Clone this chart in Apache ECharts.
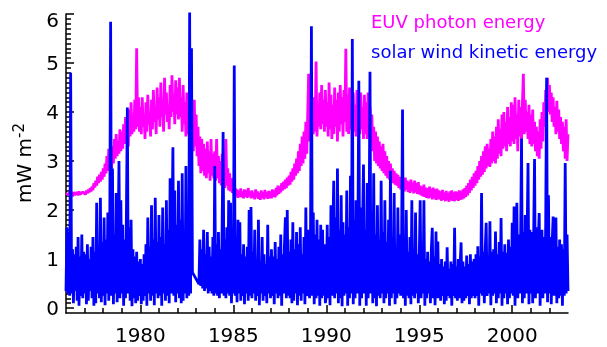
<!DOCTYPE html>
<html>
<head>
<meta charset="utf-8">
<script src="https://cdn.jsdelivr.net/npm/echarts@6/dist/echarts.min.js"></script>
<style>
  html, body { margin: 0; padding: 0; background: #fff; }
  #chart { width: 607px; height: 347px; }
</style>
</head>
<body>
<div id="chart"></div>
<script>
// Sampling grid: one value every 0.05 yr starting at 1976.0
const startYear = 1976;
const sampleStep = 0.05;

// Axis ticks
const xMajorTicks = [1980, 1985, 1990, 1995, 2000];
const yMajorTicks = [0, 1, 2, 3, 4, 5, 6];

// EUV photon energy flux (mW m^-2), one row per year
const euvEnergy = [
  2.34, 2.30, 2.36, 2.31, 2.38, 2.30, 2.35, 2.28, 2.37, 2.31, 2.33, 2.27, 2.36, 2.30, 2.38, 2.32, 2.35, 2.29, 2.37, 2.33, // 1976
  2.38, 2.32, 2.40, 2.34, 2.42, 2.36, 2.45, 2.38, 2.48, 2.41, 2.55, 2.46, 2.60, 2.50, 2.68, 2.55, 2.72, 2.58, 2.78, 2.62, // 1977
  2.85, 2.68, 2.95, 2.75, 3.10, 2.80, 3.25, 2.90, 3.05, 2.85, 3.30, 2.95, 3.45, 3.05, 3.55, 3.10, 3.40, 3.15, 3.65, 3.20, // 1978
  3.60, 3.25, 3.75, 3.35, 3.90, 3.40, 3.70, 3.30, 4.05, 3.50, 4.20, 3.55, 3.95, 3.60, 4.25, 3.65, 5.30, 3.70, 4.30, 3.60, // 1979
  4.10, 3.55, 4.30, 3.70, 3.95, 3.45, 4.20, 3.60, 4.35, 3.75, 4.00, 3.50, 4.25, 3.65, 4.45, 3.80, 4.10, 3.55, 4.50, 3.85, // 1980
  4.30, 3.70, 4.60, 3.90, 4.20, 3.60, 4.70, 3.95, 4.40, 3.80, 4.15, 3.65, 4.55, 3.90, 4.75, 4.00, 4.35, 3.75, 4.65, 3.95, // 1981
  4.50, 3.85, 4.70, 3.90, 4.30, 3.60, 4.55, 3.75, 4.20, 3.50, 4.40, 3.55, 4.10, 3.35, 4.35, 3.45, 4.00, 3.20, 4.25, 3.30, // 1982
  3.95, 3.10, 3.70, 2.90, 3.50, 2.75, 3.45, 2.80, 3.35, 2.70, 3.25, 2.65, 3.40, 2.75, 3.20, 2.60, 3.45, 2.70, 3.15, 2.65, // 1983
  3.20, 2.60, 3.45, 2.65, 3.10, 2.55, 3.00, 2.50, 3.15, 2.55, 2.95, 2.45, 3.45, 2.50, 2.85, 2.40, 2.75, 2.38, 2.65, 2.35, // 1984
  2.50, 2.30, 2.45, 2.28, 2.42, 2.25, 2.40, 2.27, 2.44, 2.26, 2.38, 2.24, 2.42, 2.27, 2.40, 2.25, 2.45, 2.28, 2.38, 2.24, // 1985
  2.40, 2.25, 2.36, 2.22, 2.42, 2.26, 2.38, 2.23, 2.35, 2.21, 2.40, 2.25, 2.37, 2.22, 2.41, 2.26, 2.36, 2.23, 2.39, 2.24, // 1986
  2.38, 2.24, 2.42, 2.27, 2.40, 2.26, 2.45, 2.30, 2.50, 2.33, 2.48, 2.36, 2.55, 2.40, 2.58, 2.43, 2.62, 2.45, 2.66, 2.50, // 1987
  2.70, 2.52, 2.78, 2.58, 2.85, 2.62, 2.95, 2.70, 3.05, 2.75, 3.20, 2.80, 3.35, 2.90, 3.50, 2.95, 3.60, 3.05, 3.80, 3.15, // 1988
  3.95, 4.78, 3.40, 4.20, 3.45, 4.05, 3.55, 4.30, 3.60, 5.03, 3.50, 4.10, 3.70, 4.40, 3.65, 4.55, 3.75, 4.25, 3.60, 4.45, // 1989
  3.70, 4.20, 3.50, 4.60, 3.65, 4.35, 3.45, 4.15, 3.55, 4.50, 3.70, 4.25, 3.40, 4.40, 3.60, 4.55, 3.75, 4.30, 3.50, 4.45, // 1990
  3.80, 5.29, 3.60, 4.35, 3.55, 4.50, 3.65, 4.20, 3.45, 4.40, 3.60, 4.15, 3.50, 4.45, 3.70, 4.25, 3.55, 4.40, 3.65, 4.10, // 1991
  3.45, 4.35, 3.55, 4.20, 3.45, 4.40, 3.50, 4.10, 3.35, 3.95, 3.20, 3.70, 3.00, 3.60, 2.95, 3.50, 2.90, 3.40, 2.85, 3.30, // 1992
  2.80, 3.35, 2.75, 3.20, 2.70, 3.10, 2.65, 3.00, 2.62, 2.95, 2.58, 2.85, 2.55, 2.80, 2.52, 2.75, 2.50, 2.72, 2.45, 2.68, // 1993
  2.42, 2.65, 2.40, 2.62, 2.38, 2.66, 2.42, 2.60, 2.37, 2.58, 2.35, 2.62, 2.38, 2.56, 2.34, 2.60, 2.36, 2.55, 2.33, 2.57, // 1994
  2.32, 2.50, 2.30, 2.48, 2.28, 2.52, 2.27, 2.46, 2.25, 2.45, 2.24, 2.48, 2.26, 2.44, 2.22, 2.46, 2.24, 2.42, 2.21, 2.44, // 1995
  2.22, 2.40, 2.22, 2.38, 2.19, 2.41, 2.21, 2.36, 2.18, 2.39, 2.20, 2.35, 2.17, 2.38, 2.20, 2.40, 2.19, 2.36, 2.18, 2.38, // 1996
  2.21, 2.37, 2.19, 2.40, 2.21, 2.38, 2.22, 2.42, 2.24, 2.45, 2.27, 2.50, 2.30, 2.55, 2.35, 2.62, 2.40, 2.68, 2.45, 2.75, // 1997
  2.50, 2.80, 2.55, 2.90, 2.62, 3.00, 2.68, 3.10, 2.72, 3.20, 2.78, 3.30, 2.85, 3.35, 2.90, 3.25, 2.88, 3.45, 2.95, 3.60, // 1998
  3.00, 3.50, 2.95, 3.70, 3.05, 3.85, 3.15, 3.65, 3.10, 3.95, 3.25, 4.00, 3.30, 3.80, 3.20, 4.10, 3.35, 3.90, 3.30, 4.20, // 1999
  3.40, 4.15, 3.35, 4.30, 3.45, 3.95, 3.20, 4.25, 3.50, 4.10, 3.40, 4.20, 4.78, 3.55, 4.25, 3.60, 4.00, 3.45, 4.15, 3.35, // 2000
  3.95, 3.30, 4.05, 3.35, 3.80, 3.20, 3.70, 3.10, 3.60, 3.05, 3.85, 3.25, 4.00, 3.40, 4.20, 3.70, 4.45, 3.90, 4.70, 4.00, // 2001
  4.55, 3.95, 4.40, 3.80, 4.30, 3.70, 4.10, 3.55, 4.23, 3.60, 4.05, 3.45, 3.90, 3.35, 3.80, 3.20, 3.70, 3.05, 3.85, 3.00, // 2002
  3.55
];

// Solar wind kinetic energy flux (mW m^-2); null marks the data gap late 1982
const windEnergy = [
  0.35, 1.65, 0.30, 1.55, 0.25, 4.80, 0.30, 1.20, 0.10, 1.10, 0.35, 1.25, 0.15, 1.45, 0.05, 1.05, 0.25, 1.50, 0.20, 1.15, // 1976
  0.30, 1.10, 0.08, 1.30, 0.15, 1.00, 0.35, 1.25, 0.20, 1.45, 0.05, 1.15, 0.10, 2.15, 0.30, 1.20, 0.20, 2.25, 0.12, 1.35, // 1977
  0.25, 1.85, 0.06, 1.40, 0.30, 1.95, 0.15, 1.30, 5.84, 0.25, 2.85, 0.08, 1.50, 0.30, 2.35, 0.12, 1.35, 3.00, 0.20, 2.20, // 1978
  0.30, 1.70, 0.05, 1.40, 0.20, 1.95, 4.09, 0.30, 1.65, 0.15, 1.80, 0.04, 1.20, 0.20, 1.05, 0.10, 1.15, 0.15, 0.95, 0.25, // 1979
  1.00, 0.08, 0.90, 0.15, 1.10, 0.25, 1.30, 0.05, 1.85, 0.30, 1.25, 0.15, 2.10, 0.25, 1.40, 0.06, 2.25, 0.30, 1.35, 0.20, // 1980
  1.90, 0.25, 1.45, 0.05, 2.05, 0.30, 1.30, 0.15, 2.20, 0.25, 1.60, 0.10, 2.65, 0.30, 1.50, 3.28, 0.25, 2.40, 0.12, 1.70, // 1981
  0.30, 2.60, 0.20, 1.80, 0.10, 2.75, 0.15, 1.50, 0.30, 2.90, 0.20, 1.65, 0.25, 6.05, 0.30, 5.30, 0.73, null, null, null, // 1982
  null, null, null, 0.49, 1.40, 0.45, 1.20, 0.40, 1.60, 0.35, 1.10, 0.40, 1.55, 0.30, 1.25, 0.35, 1.05, 0.30, 1.45, 0.25, // 1983
  2.90, 0.30, 1.30, 0.25, 1.55, 0.20, 1.20, 0.30, 1.75, 3.59, 0.25, 1.40, 0.20, 1.65, 0.30, 2.20, 0.25, 2.15, 0.10, 1.25, // 1984
  0.30, 4.95, 0.25, 1.20, 0.12, 1.80, 0.30, 1.75, 0.15, 1.10, 0.25, 1.30, 0.08, 1.05, 0.30, 1.25, 0.15, 2.00, 0.25, 2.06, // 1985
  0.20, 1.15, 0.30, 1.60, 0.15, 1.00, 0.25, 1.80, 0.06, 0.95, 0.30, 1.45, 0.15, 1.10, 0.25, 0.90, 0.10, 1.70, 0.30, 1.05, // 1986
  0.20, 1.20, 0.25, 1.05, 0.08, 1.35, 0.30, 1.00, 0.20, 1.25, 0.25, 1.50, 0.05, 1.10, 0.30, 1.30, 1.85, 0.20, 2.00, 0.25, // 1987
  1.15, 0.20, 1.40, 0.10, 1.75, 0.15, 1.20, 0.30, 1.55, 0.06, 1.30, 0.25, 1.65, 0.15, 1.10, 0.30, 1.45, 0.08, 2.05, 0.25, // 1988
  0.30, 1.60, 0.20, 1.35, 5.75, 0.25, 1.95, 0.08, 1.50, 0.20, 1.80, 0.25, 1.40, 0.05, 1.70, 0.20, 1.60, 0.25, 1.30, 0.10, // 1989
  0.25, 1.70, 0.20, 1.45, 0.06, 2.10, 0.25, 1.55, 2.60, 0.20, 1.85, 0.30, 2.85, 0.10, 1.60, 0.20, 2.30, 0.04, 1.75, 0.25, // 1990
  1.50, 0.30, 2.40, 0.05, 1.65, 0.20, 2.70, 0.30, 5.49, 0.08, 1.80, 0.20, 2.20, 0.30, 1.55, 4.64, 0.05, 2.05, 0.20, 1.70, // 1991
  2.93, 0.30, 1.60, 0.05, 2.55, 0.20, 1.45, 4.82, 0.30, 1.90, 0.10, 2.75, 0.20, 1.50, 0.04, 2.10, 0.25, 1.40, 0.20, 2.60, // 1992
  0.30, 1.55, 0.10, 2.20, 0.20, 1.35, 0.30, 1.80, 0.05, 2.80, 0.20, 1.45, 0.30, 2.35, 0.08, 1.25, 0.20, 2.05, 0.30, 1.50, // 1993
  0.25, 1.40, 4.05, 0.20, 1.30, 0.05, 2.00, 0.25, 1.15, 0.20, 1.45, 0.08, 2.20, 0.25, 1.20, 0.20, 1.95, 0.30, 1.10, 0.10, // 1994
  1.05, 2.20, 0.20, 1.25, 0.30, 2.20, 0.05, 1.00, 0.20, 1.15, 0.30, 0.95, 0.10, 1.20, 1.64, 0.20, 1.05, 0.06, 1.56, 0.20, // 1995
  1.36, 0.20, 0.90, 0.15, 1.00, 0.25, 0.85, 0.08, 0.95, 0.15, 1.24, 0.25, 0.80, 0.20, 0.95, 0.05, 0.90, 0.25, 1.64, 0.20, // 1996
  0.85, 0.15, 1.00, 0.20, 0.90, 1.34, 0.10, 0.95, 0.15, 0.85, 0.20, 1.07, 0.25, 0.90, 0.08, 1.10, 0.20, 0.95, 0.25, 1.00, // 1997
  0.20, 1.10, 0.25, 1.26, 0.05, 1.05, 0.30, 2.35, 0.25, 1.15, 0.10, 1.20, 1.74, 0.25, 1.00, 0.30, 1.77, 0.06, 1.15, 0.25, // 1998
  1.20, 0.30, 1.56, 0.10, 1.10, 0.20, 1.35, 0.30, 1.84, 0.05, 1.15, 0.20, 1.30, 0.30, 1.13, 0.08, 1.40, 0.20, 1.25, 0.30, // 1999
  1.74, 0.25, 2.07, 0.05, 1.40, 2.15, 0.20, 1.50, 0.30, 1.35, 3.46, 0.10, 1.55, 0.20, 1.90, 0.30, 1.45, 2.96, 0.08, 1.60, // 2000
  0.30, 1.55, 0.10, 1.40, 3.04, 0.20, 1.65, 0.30, 1.35, 1.94, 0.05, 1.50, 1.60, 0.20, 1.45, 0.30, 1.70, 4.70, 0.12, 2.30, // 2001
  0.30, 1.45, 0.08, 1.35, 1.87, 0.25, 1.55, 1.85, 0.10, 1.25, 0.20, 1.40, 0.25, 1.30, 0.05, 1.20, 0.25, 2.96, 0.30, 1.50, // 2002
  0.35
];

const sampleTime = i => +(startYear + i * sampleStep).toFixed(2);
const euvData = euvEnergy.map((v, i) => [sampleTime(i), v]);
const windData = windEnergy.map((v, i) => [sampleTime(i), v]);

// Minor tick positions: every year on x, every 0.1 on y
const xMinorTicks = [];
for (let yr = 1977; yr < 2003; yr++) if (yr % 5 !== 0) xMinorTicks.push(yr);
const yMinorTicks = [];
for (let k = 1; k < 60; k++) if (k % 10 !== 0) yMinorTicks.push(k / 10);

const FONT = '"DejaVu Sans", Verdana, sans-serif';
const X_MIN = 1976, X_MAX = 2003, Y_MIN = -0.1, Y_MAX = 6;
const axisStroke = { color: '#000', width: 1.5 };

const chart = echarts.init(document.getElementById('chart'), null, { renderer: 'canvas' });

chart.setOption({
  animation: false,
  backgroundColor: '#fff',
  grid: { left: 66, right: 39, top: 14, bottom: 32 },
  xAxis: [
    {
      type: 'value', min: X_MIN, max: X_MAX, position: 'bottom',
      axisLine: { show: true, onZero: false, lineStyle: axisStroke },
      axisTick: { show: true, inside: true, length: 8, customValues: xMajorTicks, lineStyle: axisStroke },
      axisLabel: { show: true, customValues: xMajorTicks, margin: 14, color: '#000',
                   fontFamily: FONT, fontSize: 20, formatter: v => String(v) },
      splitLine: { show: false }
    },
    {
      type: 'value', min: X_MIN, max: X_MAX, position: 'bottom',
      axisLine: { show: false, onZero: false },
      axisTick: { show: true, inside: true, length: 5, customValues: xMinorTicks, lineStyle: axisStroke },
      axisLabel: { show: false },
      splitLine: { show: false }
    }
  ],
  yAxis: [
    {
      type: 'value', min: Y_MIN, max: Y_MAX, position: 'left',
      axisLine: { show: true, onZero: false, lineStyle: axisStroke },
      axisTick: { show: true, inside: true, length: 8, customValues: yMajorTicks, lineStyle: axisStroke },
      axisLabel: {
        show: true, customValues: yMajorTicks, margin: 7, color: '#000',
        fontFamily: FONT, fontSize: 20,
        // the top label sits a little below its tick so it stays inside the frame
        formatter: v => (v === 6 ? '{top|6}' : '{n|' + v + '}'),
        rich: {
          n: { fontFamily: FONT, fontSize: 20, color: '#000', padding: [3, 0, 0, 0] },
          top: { fontFamily: FONT, fontSize: 20, color: '#000', padding: [16, 0, 0, 0] }
        }
      },
      splitLine: { show: false }
    },
    {
      type: 'value', min: Y_MIN, max: Y_MAX, position: 'left',
      axisLine: { show: false, onZero: false },
      axisTick: { show: true, inside: true, length: 5, customValues: yMinorTicks, lineStyle: axisStroke },
      axisLabel: { show: false },
      splitLine: { show: false }
    }
  ],
  graphic: [
    {
      type: 'text', x: 371, y: 23, z: 10,
      style: { text: 'EUV photon energy', fill: '#ff00ff', font: '18px ' + FONT, verticalAlign: 'middle' }
    },
    {
      type: 'text', x: 371, y: 53, z: 10,
      style: { text: 'solar wind kinetic energy', fill: '#0000ff', font: '18px ' + FONT, verticalAlign: 'middle' }
    },
    {
      type: 'text', x: 26, y: 163, rotation: Math.PI / 2, z: 10,
      style: {
        text: '{a|mW m}{b|-2}', align: 'center', verticalAlign: 'middle',
        rich: {
          a: { fontSize: 20, fontFamily: FONT, fill: '#000', lineHeight: 26 },
          b: { fontSize: 15, fontFamily: FONT, fill: '#000', lineHeight: 15, verticalAlign: 'top' }
        }
      }
    }
  ],
  series: [
    {
      name: 'EUV photon energy', type: 'line', data: euvData,
      xAxisIndex: 0, yAxisIndex: 0, showSymbol: false, symbol: 'none',
      sampling: null, z: 2, color: '#ff00ff',
      lineStyle: { color: '#ff00ff', width: 2.8 }
    },
    {
      name: 'solar wind kinetic energy', type: 'line', data: windData,
      xAxisIndex: 0, yAxisIndex: 0, showSymbol: false, symbol: 'none',
      sampling: null, connectNulls: true, z: 3, color: '#0000ff',
      lineStyle: { color: '#0000ff', width: 2.8 }
    }
  ]
});
</script>
</body>
</html>
